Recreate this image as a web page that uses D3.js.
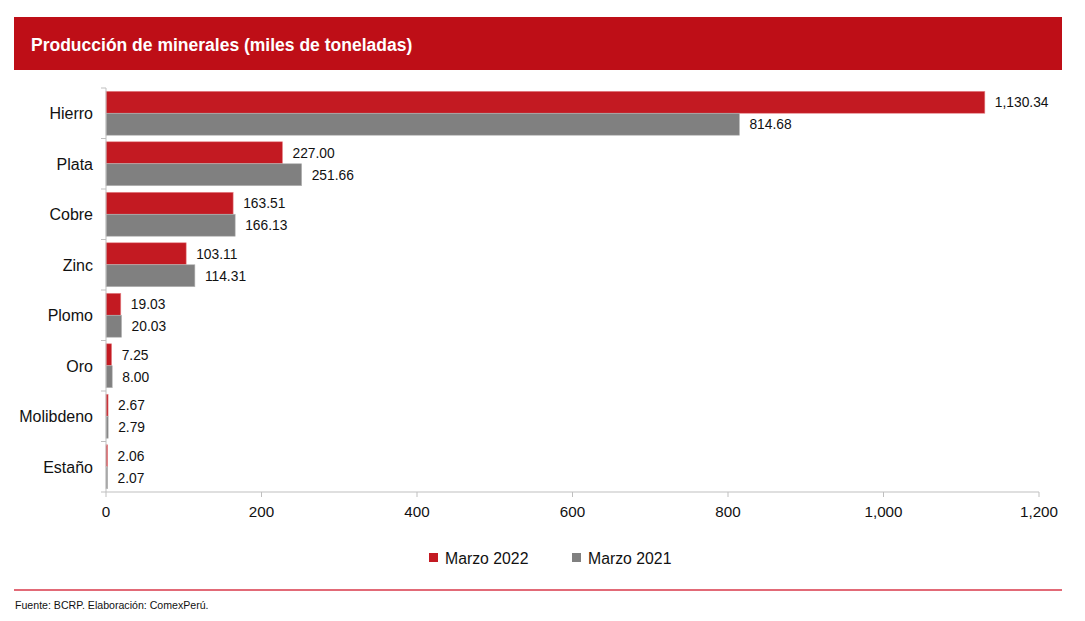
<!DOCTYPE html>
<html>
<head>
<meta charset="utf-8">
<script src="https://cdn.jsdelivr.net/npm/d3@7"></script>
<style>
  body { margin: 0; background: #fff; }
  svg { display: block; font-family: Arial, "Liberation Sans", sans-serif; }
</style>
</head>
<body>
<div class="chart"></div>
<script>
// data
var categories = ["Hierro", "Plata", "Cobre", "Zinc", "Plomo", "Oro", "Molibdeno", "Estaño"];
var marzo2022 = [1130.34, 227.00, 163.51, 103.11, 19.03, 7.25, 2.67, 2.06];
var marzo2021 = [814.68, 251.66, 166.13, 114.31, 20.03, 8.00, 2.79, 2.07];
var seriesNames = ["Marzo 2022", "Marzo 2021"];
var xTicks = [0, 200, 400, 600, 800, 1000, 1200];

var W = 1085, H = 621;
var red = "#c31a22", gray = "#808080";

var svg = d3.select("div.chart")
  .append("svg")
  .attr("width", W)
  .attr("height", H);

// header band
svg.append("rect")
  .attr("x", 14).attr("y", 17)
  .attr("width", 1048).attr("height", 53)
  .attr("fill", "#be0e17");

svg.append("text")
  .attr("x", 31).attr("y", 51)
  .attr("fill", "#fff")
  .attr("font-size", 17.5)
  .attr("font-weight", "bold")
  .text("Producción de minerales (miles de toneladas)");

// scales
var x = d3.scaleLinear().domain([0, 1200]).range([106, 1039]);
var y = d3.scaleBand().domain(categories).range([88, 492]).paddingInner(0.13).paddingOuter(0.065);
var ySub = d3.scaleBand().domain(seriesNames).range([0, y.bandwidth()]);

// bars
var rows = categories.map(function(c, i){
  return {cat: c, vals: [marzo2022[i], marzo2021[i]]};
});

var g = svg.append("g");

rows.forEach(function(r){
  r.vals.forEach(function(v, j){
    var yy = y(r.cat) + ySub(seriesNames[j]);
    g.append("rect")
      .attr("x", x(0))
      .attr("y", yy)
      .attr("width", Math.max(x(v) - x(0), 1.2))
      .attr("height", ySub.bandwidth())
      .attr("fill", j == 0 ? red : gray)
      .attr("stroke", j == 0 ? "#e88a8e" : "#b5b5b5")
      .attr("stroke-width", 0.6);

    g.append("text")
      .attr("x", x(v) + 10)
      .attr("y", yy + ySub.bandwidth() / 2 + 5)
      .attr("font-size", 13.8)
      .attr("fill", "#111")
      .text(d3.format(",.2f")(v));
  });
});

// y axis
svg.append("line")
  .attr("x1", x(0)).attr("x2", x(0))
  .attr("y1", 88).attr("y2", 492)
  .attr("stroke", "#bfbfbf");

categories.forEach(function(c, i){
  var ty = 88 + i * (404 / categories.length);
  svg.append("line")
    .attr("x1", x(0) - 5).attr("x2", x(0))
    .attr("y1", ty).attr("y2", ty)
    .attr("stroke", "#bfbfbf");
  svg.append("text")
    .attr("x", 93)
    .attr("y", ty + 404 / categories.length / 2 + 6)
    .attr("text-anchor", "end")
    .attr("font-size", 16)
    .attr("fill", "#111")
    .text(c);
});

// x axis
svg.append("line")
  .attr("x1", x(0) - 5).attr("x2", x(1200))
  .attr("y1", 492).attr("y2", 492)
  .attr("stroke", "#bfbfbf");

xTicks.forEach(function(t){
  svg.append("line")
    .attr("x1", x(t)).attr("x2", x(t))
    .attr("y1", 492).attr("y2", 497)
    .attr("stroke", "#bfbfbf");
  svg.append("text")
    .attr("x", x(t))
    .attr("y", 517)
    .attr("text-anchor", "middle")
    .attr("font-size", 15.2)
    .attr("fill", "#111")
    .text(d3.format(",")(t));
});

// legend
var legX = [429, 572];
seriesNames.forEach(function(s, i){
  svg.append("rect")
    .attr("x", legX[i]).attr("y", 553)
    .attr("width", 9).attr("height", 9)
    .attr("fill", i == 0 ? red : gray);
  svg.append("text")
    .attr("x", legX[i] + 16)
    .attr("y", 564)
    .attr("font-size", 15.8)
    .attr("fill", "#111")
    .text(s);
});

// footer
svg.append("line")
  .attr("x1", 14).attr("x2", 1062)
  .attr("y1", 590).attr("y2", 590)
  .attr("stroke", "#d9394a")
  .attr("stroke-width", 1.5);

svg.append("text")
  .attr("x", 15).attr("y", 609)
  .attr("font-size", 10.6)
  .attr("fill", "#111")
  .text("Fuente: BCRP. Elaboración: ComexPerú.");
</script>
</body>
</html>
